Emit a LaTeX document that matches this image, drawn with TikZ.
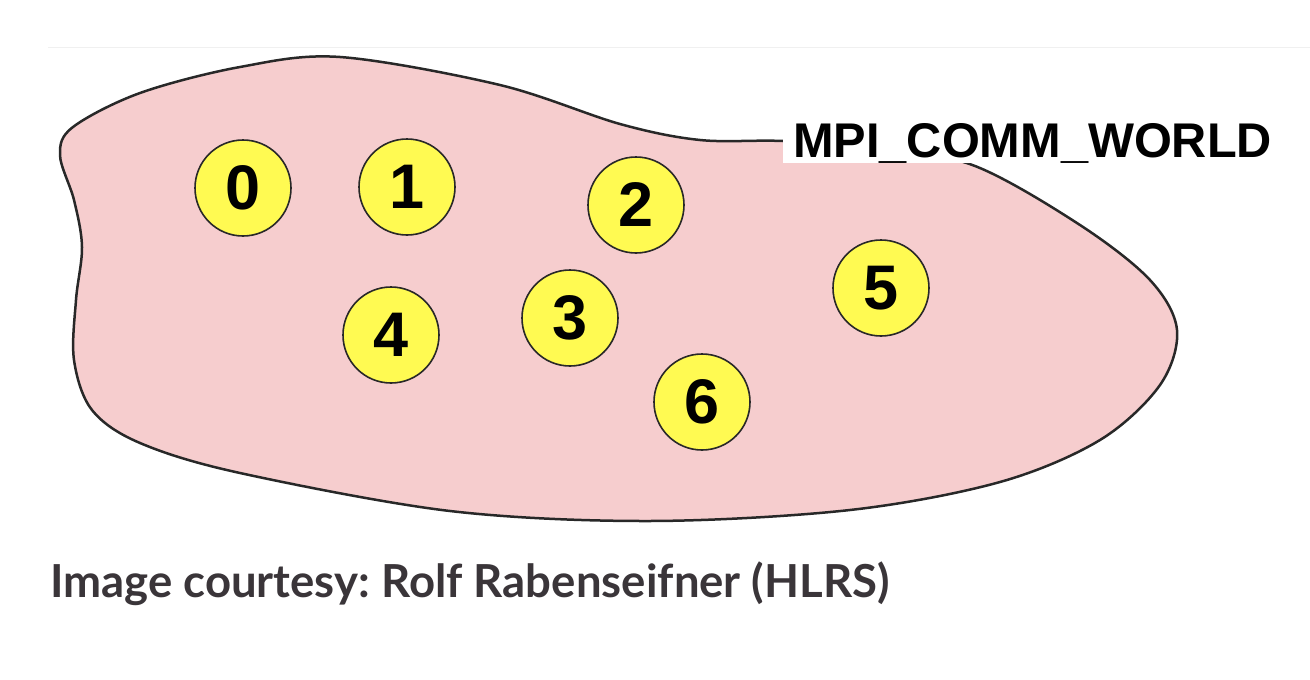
\documentclass[tikz,border=0pt]{standalone}
\usepackage{fontspec}
\setmainfont{Liberation Sans}
\newfontfamily\capfont{Lato}
\frenchspacing
\definecolor{blobpink}{RGB}{246,205,206}
\definecolor{procyellow}{RGB}{255,250,82}
\definecolor{edgegray}{RGB}{40,40,40}
\definecolor{captext}{RGB}{58,53,57}
\definecolor{rulegray}{RGB}{240,240,240}
\tikzset{
  proc/.style={circle, draw=edgegray, line width=1.6pt, fill=procyellow, minimum size=96pt, inner sep=0pt,
    font=\fontsize{63}{63}\selectfont\bfseries},
  commlabel/.style={fill=white, inner ysep=0pt, inner xsep=10pt, anchor=base west,
    font=\fontsize{48.7}{48.7}\selectfont\bfseries},
  caption/.style={anchor=base west, text=captext, inner sep=0pt,
    font=\capfont\fontsize{45.5}{45.5}\selectfont\bfseries}
}
\begin{document}
\begin{tikzpicture}[x=1pt,y=-1pt]
\useasboundingbox (0,0) rectangle (1310,680);
\draw[rulegray, line width=1pt] (48,47) -- (1310,47);
% communicator blob
\draw[edgegray, fill=blobpink, line width=2.5pt]
  plot[smooth cycle, tension=0.55] coordinates {
    (340,57) (500,85) (620,124) (700,140) (783,141) (880,148) (975,166)
    (1080,225) (1150,280) (1177,330) (1160,385) (1100,440) (1000,482)
    (850,510) (650,521) (450,511) (240,473) (140,443) (92,410) (74,360)
    (76,300) (82,247) (74,200) (60,155) (73,127) (140,93) (240,67)};
\node[commlabel] (comm) at (783,157) {MPI\_COMM\_WORLD};
% processes
\node[proc] (p0) at (243,188) {0};
\node[proc] (p1) at (407,187) {1};
\node[proc] (p2) at (636,205) {2};
\node[proc] (p3) at (570,318) {3};
\node[proc] (p4) at (391,335) {4};
\node[proc] (p5) at (881,288) {5};
\node[proc] (p6) at (702,402) {6};
\node[caption] (cap) at (50,597) {Image courtesy: Rolf Rabenseifner (HLRS)};
\end{tikzpicture}
\end{document}
